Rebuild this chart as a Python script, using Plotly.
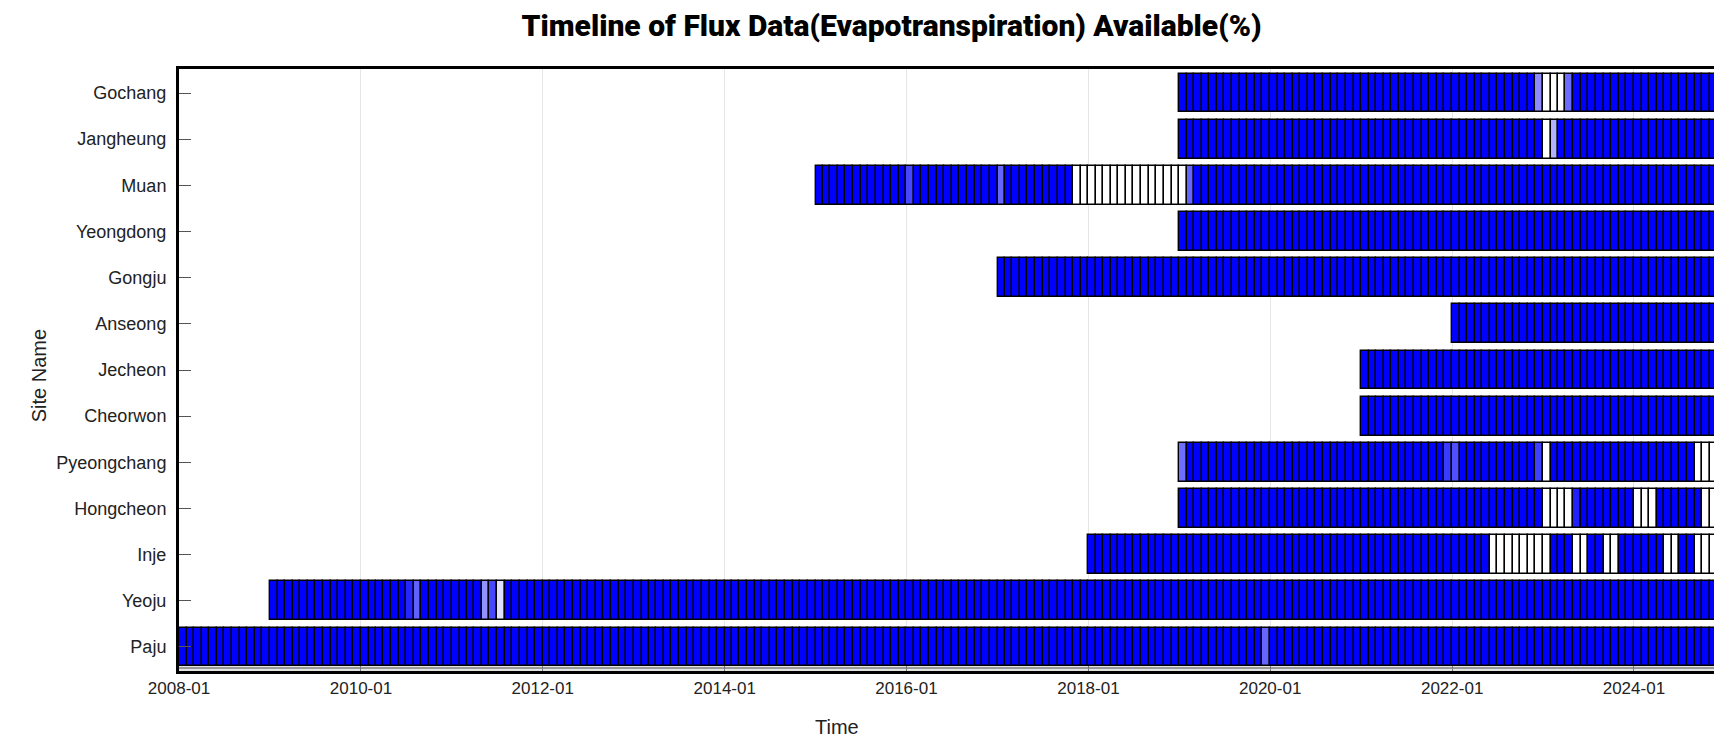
import plotly.graph_objects as go
import pandas as pd

# ---------------- data ----------------
sites = ["Paju", "Yeoju", "Inje", "Hongcheon", "Pyeongchang", "Cheorwon",
         "Jecheon", "Anseong", "Gongju", "Yeongdong", "Muan", "Jangheung", "Gochang"]
start_months = ["2008-01", "2009-01", "2018-01", "2019-01", "2019-01", "2021-01",
                "2021-01", "2022-01", "2017-01", "2019-01", "2015-01", "2019-01", "2019-01"]
end_months = ["2024-12"] * len(sites)
full_pct = 100  # months not listed below are fully available

# months that are not 100 % available, and their availability (%)
paju_months = ["2019-12"]
paju_pct = [60]
yeoju_months = ["2010-07", "2010-08", "2011-05", "2011-06", "2011-07"]
yeoju_pct = [85, 62, 43, 72, 12]
inje_months = ["2022-06", "2022-07", "2022-08", "2022-09", "2022-10", "2022-11", "2022-12", "2023-01",
               "2023-05", "2023-06", "2023-09", "2023-10", "2024-05", "2024-06",
               "2024-09", "2024-10", "2024-11"]
inje_pct = [0, 0, 0, 0, 0, 0, 0, 0, 0, 0, 0, 0, 0, 0, 0, 0, 0]
hongcheon_months = ["2023-01", "2023-02", "2023-03", "2023-04", "2023-05",
                    "2024-01", "2024-02", "2024-03", "2024-10", "2024-11", "2024-12"]
hongcheon_pct = [0, 0, 0, 0, 87, 0, 0, 0, 0, 0, 0]
pyeongchang_months = ["2019-01", "2021-12", "2022-01", "2022-12", "2023-01",
                      "2024-09", "2024-10", "2024-11", "2024-12"]
pyeongchang_pct = [57, 77, 69, 75, 0, 0, 0, 0, 0]
muan_months = ["2016-01", "2017-01", "2017-11", "2017-12", "2018-01", "2018-02", "2018-03",
               "2018-04", "2018-05", "2018-06", "2018-07", "2018-08", "2018-09", "2018-10",
               "2018-11", "2018-12", "2019-01", "2019-02"]
muan_pct = [72, 60, 0, 0, 0, 0, 0, 0, 0, 0, 0, 0, 0, 0, 0, 0, 0, 60]
jangheung_months = ["2023-01", "2023-02"]
jangheung_pct = [0, 30]
gochang_months = ["2022-12", "2023-01", "2023-02", "2023-03", "2023-04"]
gochang_pct = [45, 0, 0, 0, 58]

exceptions = {
    "Paju": (paju_months, paju_pct),
    "Yeoju": (yeoju_months, yeoju_pct),
    "Inje": (inje_months, inje_pct),
    "Hongcheon": (hongcheon_months, hongcheon_pct),
    "Pyeongchang": (pyeongchang_months, pyeongchang_pct),
    "Muan": (muan_months, muan_pct),
    "Jangheung": (jangheung_months, jangheung_pct),
    "Gochang": (gochang_months, gochang_pct),
}

x_tick_start = "2008-01-01"
x_range = ["2008-01-01", "2025-01-05"]


def pct_color(p):
    f = 1 - p / 100.0
    v = int(round(255 * f))
    return f"rgb({v},{v},255)"


ys, bases, durs, cols, texts = [], [], [], [], []
for site, s, e in zip(sites, start_months, end_months):
    exc_m, exc_p = exceptions.get(site, ([], []))
    exc = dict(zip(exc_m, exc_p))
    for per in pd.period_range(s, e, freq="M"):
        pct = exc.get(str(per), full_pct)
        t0 = per.start_time
        t1 = (per + 1).start_time
        ys.append(site)
        bases.append(t0.strftime("%Y-%m-%d"))
        durs.append((t1 - t0).total_seconds() * 1000.0)
        cols.append(pct_color(pct))
        texts.append(f"{site} {per}: {pct}%")

fig = go.Figure(go.Bar(
    orientation="h",
    y=ys, x=durs, base=bases,
    width=0.84,
    marker=dict(color=cols, line=dict(color="black", width=1.4)),
    hovertext=texts, hoverinfo="text",
    showlegend=False,
))

L, R, T, B = 171, 1, 61, 79
W, H = 1722, 742

fig.update_layout(
    width=W, height=H,
    margin=dict(l=L, r=R, t=T, b=B),
    paper_bgcolor="white", plot_bgcolor="white",
    bargap=0,
    title=dict(
        text="Timeline of Flux Data(Evapotranspiration) Available(%)",
        font=dict(family="Roboto, sans-serif", size=30, color="black", weight=900),
        x=(885 - L) / (W - L - R), xref="paper", xanchor="center",
        y=1 - 17 / H, yref="container", yanchor="middle",
    ),
    xaxis=dict(
        type="date", range=x_range,
        tick0=x_tick_start, dtick="M24", tickformat="%Y-%m",
        showgrid=True, gridcolor="#e6e6e6", gridwidth=1,
        showline=True, linecolor="black", linewidth=3, mirror=True,
        ticks="inside", ticklen=5, tickcolor="#777",
        tickfont=dict(family="Liberation Sans, Arial, sans-serif", size=17, color="#222"),
        zeroline=False,
    ),
    yaxis=dict(
        type="category", categoryorder="array", categoryarray=sites,
        range=[-0.52, len(sites) - 1 + 0.52],
        showgrid=False,
        showline=True, linecolor="black", linewidth=3, mirror=True,
        ticks="inside", ticklen=12, tickcolor="#555", tickwidth=1,
        ticklabelstandoff=6,
        tickfont=dict(family="Liberation Sans, Arial, sans-serif", size=18, color="#222"),
        zeroline=False,
    ),
    annotations=[
        dict(text="Time", x=830, y=719, xref="paper", yref="paper", showarrow=False,
             xanchor="center", yanchor="middle",
             font=dict(family="Liberation Sans, Arial, sans-serif", size=20, color="#222")),
        dict(text="Site Name", textangle=-90, x=31, y=368, xref="paper", yref="paper", showarrow=False,
             xanchor="center", yanchor="middle",
             font=dict(family="Liberation Sans, Arial, sans-serif", size=20, color="#222")),
    ],
    shapes=[
        dict(type="rect", xref="x domain", yref="y domain", x0=0, x1=1, y0=0, y1=0.011,
             fillcolor="#e4e4e4", line=dict(width=0), layer="below"),
        dict(type="line", xref="x domain", yref="y domain", x0=0, x1=1, y0=0.005, y1=0.005,
             line=dict(color="#999", width=2), layer="below"),
    ],
)

# convert the pixel-placed annotations to paper coordinates
pw, ph = W - L - R, H - T - B
for a in fig.layout.annotations:
    a.x = (a.x - L) / pw
    a.y = 1 - (a.y - T) / ph

fig.write_html("out.html")
